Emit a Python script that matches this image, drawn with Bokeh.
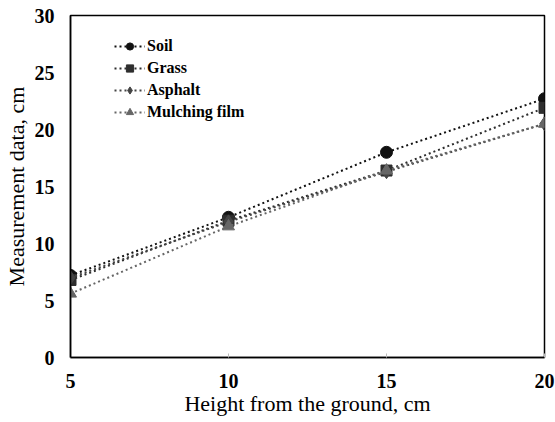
from bokeh.plotting import figure
from bokeh.models import Legend, LegendItem, Range1d, FixedTicker
from bokeh.embed import file_html
from bokeh.resources import INLINE

heights = [5, 10, 15, 20]
soil = [7.2, 12.3, 18.0, 22.7]
grass = [6.8, 12.0, 16.4, 21.9]
asphalt = [7.0, 11.9, 16.3, 20.5]
mulching = [5.6, 11.5, 16.4, 20.5]
series_names = ["Soil", "Grass", "Asphalt", "Mulching film"]
x_ticks = [5, 10, 15, 20]
y_ticks = [0, 5, 10, 15, 20, 25, 30]

p = figure(width=555, height=422, output_backend="svg", toolbar_location=None,
           x_range=Range1d(5, 20), y_range=Range1d(0, 30))
p.min_border_left = 68
p.min_border_right = 11
p.min_border_top = 15
p.min_border_bottom = 65
p.background_fill_color = "white"
p.border_fill_color = "white"
p.outline_line_color = "black"
p.outline_line_width = 1.5
p.grid.visible = False

serif = "Liberation Serif"
for ax in (p.xaxis[0], p.yaxis[0]):
    ax.axis_line_color = "black"
    ax.axis_line_width = 1.5
    ax.major_label_text_font = serif
    ax.major_label_text_font_style = "bold"
    ax.major_label_text_font_size = "20px"
    ax.major_label_text_color = "black"
    ax.axis_label_text_font = serif
    ax.axis_label_text_font_style = "normal"
    ax.axis_label_text_font_size = "22px"
    ax.axis_label_text_color = "black"
    ax.minor_tick_line_color = None

p.xaxis.ticker = FixedTicker(ticks=x_ticks)
p.yaxis.ticker = FixedTicker(ticks=y_ticks)
p.xaxis.major_tick_in = 4
p.xaxis.major_tick_out = 0
p.xaxis.major_tick_line_color = "#bbbbbb"
p.xaxis.major_label_standoff = 16
p.xaxis.axis_label = "Height from the ground, cm"
p.xaxis.axis_label_standoff = 0
p.yaxis.major_tick_in = 0
p.yaxis.major_tick_out = 0
p.yaxis.major_label_standoff = 16
p.yaxis.axis_label = "Measurement data, cm"
p.yaxis.axis_label_standoff = 3

colors = ["#111111", "#2e2e2e", "#444444", "#666666"]
markers = ["circle", "square", "diamond", "triangle"]
sizes = [12, 11, 14, 12]
data = [soil, grass, asphalt, mulching]

items = []
for name, ys, c, m, s in zip(series_names, data, colors, markers, sizes):
    ln = p.line(heights, ys, line_color=c, line_width=2, line_dash="2 3")
    sc = p.scatter(heights, ys, marker=m, size=s, fill_color=c, line_color=c)
    items.append(LegendItem(label=name, renderers=[ln, sc]))

legend = Legend(items=items, location=(44, 236))
legend.border_line_color = None
legend.background_fill_alpha = 0
legend.label_text_font = serif
legend.label_text_font_style = "bold"
legend.label_text_font_size = "16px"
legend.label_text_color = "black"
legend.glyph_width = 31
legend.glyph_height = 18
legend.label_height = 18
legend.spacing = 4
legend.margin = 0
legend.padding = 8
legend.label_standoff = 2
p.add_layout(legend)

open("out.html", "w").write(file_html(p, INLINE))
